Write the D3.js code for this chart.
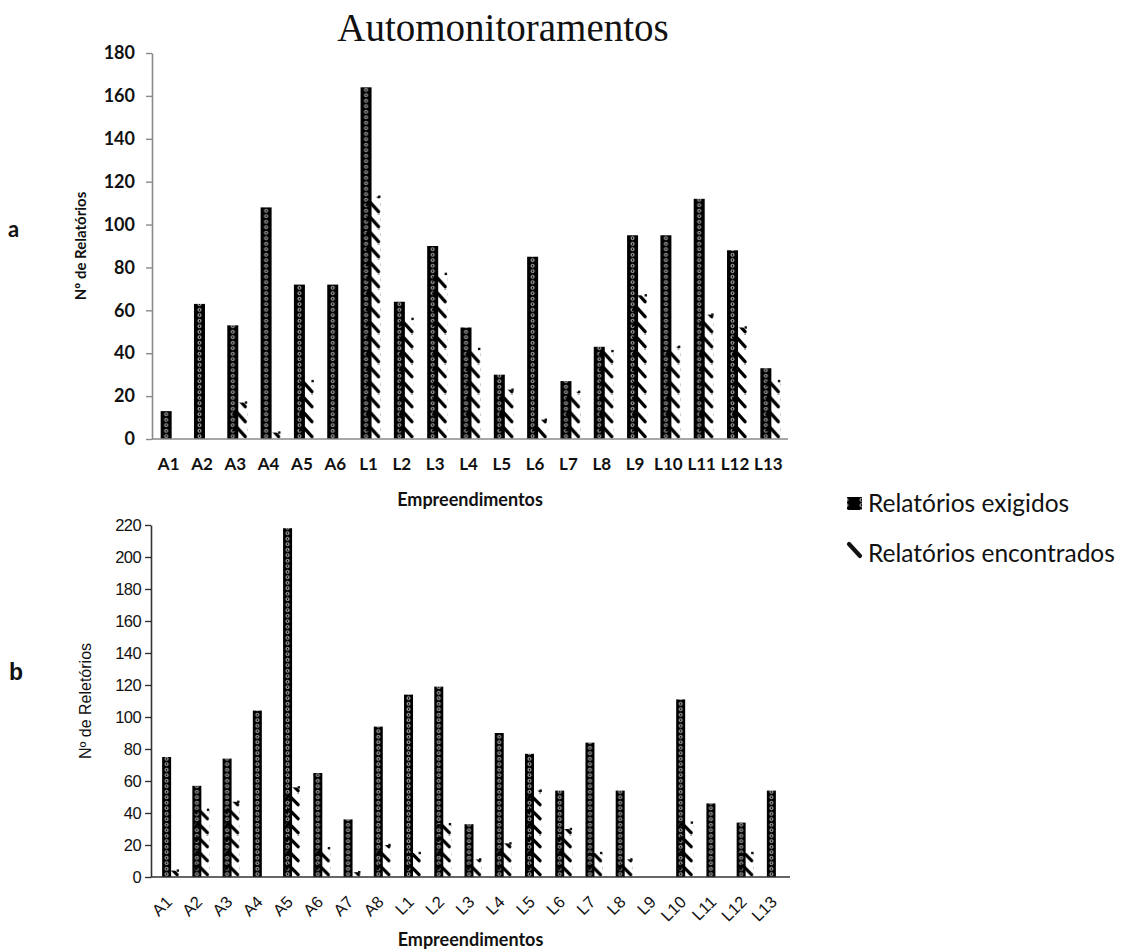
<!DOCTYPE html>
<html>
<head>
<meta charset="utf-8">
<script src="https://cdn.jsdelivr.net/npm/d3@7"></script>
<style>
  body { margin: 0; background: #fff; }
  svg { display: block; }
</style>
</head>
<body>
<svg id="chart" width="1126" height="952"></svg>
<script>
// ---- Panel a: automonitoramentos por empreendimento ----
const catsA = ["A1","A2","A3","A4","A5","A6","L1","L2","L3","L4","L5","L6","L7","L8","L9","L10","L11","L12","L13"];
const exigidosA = [13, 63, 53, 108, 72, 72, 164, 64, 90, 52, 30, 85, 27, 43, 95, 95, 112, 88, 33];
const encontradosA = [0, 0, 17, 3, 27, 0, 113, 56, 77, 42, 23, 9, 22, 41, 67, 43, 58, 52, 27];
const ticksA = [0, 20, 40, 60, 80, 100, 120, 140, 160, 180];

// ---- Panel b ----
const catsB = ["A1","A2","A3","A4","A5","A6","A7","A8","L1","L2","L3","L4","L5","L6","L7","L8","L9","L10","L11","L12","L13"];
const exigidosB = [75, 57, 74, 104, 218, 65, 36, 94, 114, 119, 33, 90, 77, 54, 84, 54, 0, 111, 46, 34, 54];
const encontradosB = [4, 42, 47, 0, 56, 18, 3, 20, 15, 33, 11, 21, 54, 30, 15, 11, 0, 34, 0, 15, 0];
const ticksB = [0, 20, 40, 60, 80, 100, 120, 140, 160, 180, 200, 220];

const seriesNames = ["Relatórios exigidos", "Relatórios encontrados"];

const svg = d3.select("#chart");
const defs = svg.append("defs");

// Dotted fill: black column with small white rings
function ringPattern(id, x, y0, w) {
  const th = 5.5;
  const p = defs.append("pattern")
    .attr("id", id)
    .attr("patternUnits", "userSpaceOnUse")
    .attr("x", x).attr("y", y0)
    .attr("width", w).attr("height", th);
  p.append("rect").attr("width", w).attr("height", th).attr("fill", "#000");
  p.append("circle").attr("cx", w / 2).attr("cy", th / 2).attr("r", 1.5)
    .attr("fill", "#000").attr("stroke", "#ffffff").attr("stroke-width", 0.75);
}

// Hooked backslash hatch
function hatchPattern(id, x, y0, w, h) {
  const p = defs.append("pattern")
    .attr("id", id)
    .attr("patternUnits", "userSpaceOnUse")
    .attr("x", x).attr("y", y0)
    .attr("width", w).attr("height", h);
  p.append("path")
    .attr("d", `M1.8,${h * 0.38} Q2.8,${h * 0.1} ${w * 0.34},${h * 0.26} L${w - 2},${h - 2.3}`)
    .attr("fill", "none").attr("stroke", "#000")
    .attr("stroke-width", 3.3).attr("stroke-linecap", "round");
}

function drawPanel(o) {
  const g = svg.append("g");
  const x = d3.scaleBand().domain(o.cats).range([o.left, o.right]).padding(0);
  const y = d3.scaleLinear().domain([0, o.max]).range([o.bottom, o.top]);
  const base = y(0);

  const rows = o.cats.map((c, i) => ({ cat: c, ex: o.exig[i], en: o.enc[i], i }));

  // exigidos
  rows.forEach(d => {
    if (d.ex <= 0) return;
    const cx = x(d.cat) + x.bandwidth() / 2;
    ringPattern(`${o.id}-ex-${d.i}`, cx + o.exOff[0], base, o.exOff[1] - o.exOff[0]);
  });
  g.append("g").selectAll("rect")
    .data(rows.filter(d => d.ex > 0))
    .join("rect")
    .attr("x", d => x(d.cat) + x.bandwidth() / 2 + o.exOff[0])
    .attr("width", o.exOff[1] - o.exOff[0])
    .attr("y", d => y(d.ex))
    .attr("height", d => base - y(d.ex))
    .attr("fill", d => `url(#${o.id}-ex-${d.i})`);

  // encontrados
  rows.forEach(d => {
    if (d.en <= 0) return;
    const cx = x(d.cat) + x.bandwidth() / 2;
    hatchPattern(`${o.id}-en-${d.i}`, cx + o.enOff[0], base, o.enOff[1] - o.enOff[0], o.hatchH);
  });
  const enc = g.append("g");
  enc.selectAll("rect.bar")
    .data(rows.filter(d => d.en > 0))
    .join("rect")
    .attr("class", "bar")
    .attr("x", d => x(d.cat) + x.bandwidth() / 2 + o.enOff[0])
    .attr("width", o.enOff[1] - o.enOff[0])
    .attr("y", d => y(d.en))
    .attr("height", d => base - y(d.en))
    .attr("fill", d => `url(#${o.id}-en-${d.i})`);
  enc.selectAll("rect.cap")
    .data(rows.filter(d => d.en > 0))
    .join("rect")
    .attr("class", "cap")
    .attr("x", d => x(d.cat) + x.bandwidth() / 2 + o.enOff[1] - 2.5)
    .attr("y", d => y(d.en) - 1.2)
    .attr("width", 2.4).attr("height", 2.4)
    .attr("fill", "#111");

  // y axis
  const ya = g.append("g")
    .attr("transform", `translate(${o.left},0)`)
    .call(d3.axisLeft(y).tickValues(o.ticks).tickSize(6).tickPadding(o.tickPad).tickSizeOuter(0));
  ya.select(".domain").attr("stroke", o.axisColor).attr("stroke-width", 1.6);
  ya.selectAll(".tick line").attr("stroke", o.axisColor).attr("stroke-width", 1.4);
  ya.selectAll(".tick text")
    .attr("font-family", o.font).attr("font-weight", o.tickWeight)
    .attr("font-size", o.tickSize).attr("fill", "#111")
    .attr("letter-spacing", o.tickSpacing || 0);

  // baseline
  g.append("line")
    .attr("x1", o.left).attr("x2", o.baseEnd)
    .attr("y1", base).attr("y2", base)
    .attr("stroke", o.axisColor).attr("stroke-width", 1.6);

  // x axis labels
  const xa = g.append("g")
    .attr("transform", `translate(0,${base})`)
    .call(d3.axisBottom(x).tickSize(0).tickPadding(0));
  xa.select(".domain").remove();
  const xt = xa.selectAll(".tick text")
    .attr("font-family", o.font).attr("font-weight", o.tickWeight)
    .attr("font-size", o.xTickSize).attr("fill", "#111");
  if (o.rotate) {
    xt.attr("dy", 0).attr("y", 0).attr("x", 0)
      .attr("text-anchor", "end")
      .attr("transform", `translate(${o.rotOff[0]},${o.rotOff[1]}) rotate(-45)`);
  } else {
    xt.attr("dy", 0).attr("y", o.xLabelY);
  }

  // axis titles
  g.append("text")
    .attr("x", (o.left + o.baseEnd) / 2 + o.xTitleDx).attr("y", o.xTitleY)
    .attr("text-anchor", "middle")
    .attr("font-family", o.titleFont).attr("font-weight", 700)
    .attr("font-size", o.xTitleSize).attr("fill", "#111")
    .text("Empreendimentos");
  g.append("text")
    .attr("transform", `translate(${o.yTitleX},${(o.top + o.bottom) / 2}) rotate(-90)`)
    .attr("text-anchor", "middle")
    .attr("font-family", o.font).attr("font-weight", o.yTitleWeight)
    .attr("font-size", o.yTitleSize).attr("fill", "#111")
    .text(o.yTitle);
  g.append("text")
    .attr("x", o.letterX).attr("y", o.letterY)
    .attr("font-family", o.letterFont).attr("font-weight", 700)
    .attr("font-size", o.letterSize).attr("fill", "#111")
    .text(o.letter);
}

drawPanel({
  id: "a", cats: catsA, exig: exigidosA, enc: encontradosA, ticks: ticksA, max: 180,
  left: 152, right: 785, baseEnd: 788, top: 53, bottom: 439,
  exOff: [-8, 3], enOff: [-3, 12], hatchH: 15,
  font: "Lato", tickWeight: 700, tickSize: 18, tickPad: 11, xTickSize: 17, xLabelY: 31,
  axisColor: "#8a8a8a",
  titleFont: "Lato", xTitleSize: 18, xTitleY: 506, xTitleDx: 0,
  yTitle: "Nº de Relatórios", yTitleX: 86, yTitleWeight: 700, yTitleSize: 15,
  letter: "a", letterFont: "Lato", letterX: 8, letterY: 237, letterSize: 22
});

drawPanel({
  id: "b", cats: catsB, exig: exigidosB, enc: encontradosB, ticks: ticksB, max: 220,
  left: 151, right: 786, baseEnd: 790, top: 525, bottom: 877,
  exOff: [-4, 5], enOff: [-2, 13], hatchH: 14,
  font: "Liberation Sans", tickWeight: 400, tickSize: 16.5, tickPad: 4, xTickSize: 16.5,
  tickSpacing: -0.6,
  rotate: true, rotOff: [7, 26],
  axisColor: "#333",
  titleFont: "Lato", xTitleSize: 18, xTitleY: 946, xTitleDx: 0,
  yTitle: "Nº de Reletórios", yTitleX: 91, yTitleWeight: 400, yTitleSize: 16,
  letter: "b", letterFont: "Liberation Sans", letterX: 9, letterY: 680, letterSize: 23
});

// Title
svg.append("text")
  .attr("x", 503).attr("y", 41)
  .attr("text-anchor", "middle")
  .attr("font-family", "Liberation Serif").attr("font-size", 39).attr("fill", "#111")
  .text("Automonitoramentos");

// Legend
const lg = svg.append("g").attr("transform", "translate(847,0)");
ringPattern("leg-ex", 847, 497, 15);
lg.append("rect").attr("x", 0).attr("y", 497).attr("width", 15).attr("height", 13)
  .attr("fill", "url(#leg-ex)");
lg.append("line").attr("x1", 2).attr("y1", 544).attr("x2", 13).attr("y2", 556)
  .attr("stroke", "#111").attr("stroke-width", 4.2).attr("stroke-linecap", "round");
lg.selectAll("text.item")
  .data(seriesNames)
  .join("text")
  .attr("class", "item")
  .attr("x", 21).attr("y", (d, i) => 512 + i * 50)
  .attr("font-family", "Lato").attr("font-size", 24.5).attr("fill", "#111")
  .text(d => d);
</script>
</body>
</html>
